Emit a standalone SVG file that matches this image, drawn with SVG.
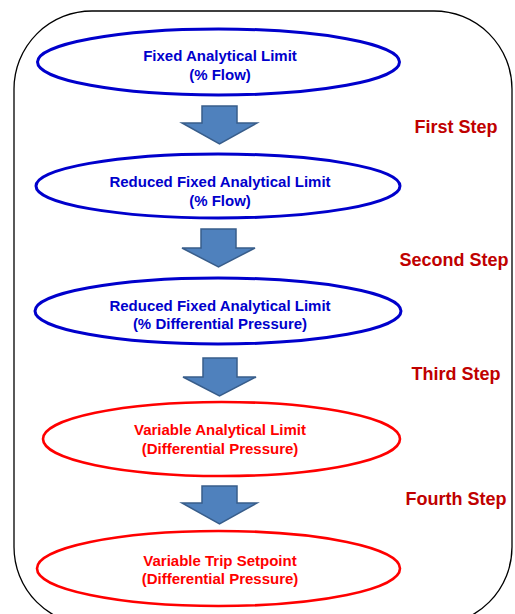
<svg xmlns="http://www.w3.org/2000/svg" width="515" height="614" viewBox="0 0 515 614">
<defs>
<style>
.frame{fill:none;stroke:#000;stroke-width:1.3}
.eb{fill:#fff;stroke:#0000CC;stroke-width:3}
.er{fill:#fff;stroke:#FF0000;stroke-width:2.6}
.tb{font-family:"Liberation Sans",Arial,sans-serif;font-weight:bold;font-size:15px;fill:#0000CC;text-anchor:middle}
.tr{font-family:"Liberation Sans",Arial,sans-serif;font-weight:bold;font-size:15px;fill:#FF0000;text-anchor:middle}
.step{font-family:"Liberation Sans",Arial,sans-serif;font-weight:bold;font-size:18px;fill:#C00000;text-anchor:middle}
.arr{fill:#4F81BD;stroke:#385D8A;stroke-width:1.5;stroke-linejoin:miter}
</style>
</defs>
<rect class="frame" x="14" y="11" width="498" height="614" rx="78" ry="78"/>
<g id="node1">
<ellipse class="eb" cx="218.5" cy="62" rx="181" ry="33"/>
<text class="tb" x="220" y="60.5">Fixed Analytical Limit</text>
<text class="tb" x="220" y="79.5">(% Flow)</text>
</g>
<g id="node2">
<ellipse class="eb" cx="218" cy="186" rx="182" ry="32"/>
<text class="tb" x="220" y="186.5">Reduced Fixed Analytical Limit</text>
<text class="tb" x="220" y="205.5">(% Flow)</text>
</g>
<g id="node3">
<ellipse class="eb" cx="218" cy="311" rx="183" ry="33"/>
<text class="tb" x="220" y="310.5">Reduced Fixed Analytical Limit</text>
<text class="tb" x="220" y="329">(% Differential Pressure)</text>
</g>
<g id="node4">
<ellipse class="er" cx="221.5" cy="439" rx="178.5" ry="37"/>
<text class="tr" x="220" y="434.5">Variable Analytical Limit</text>
<text class="tr" x="220" y="453.5">(Differential Pressure)</text>
</g>
<g id="node5">
<ellipse class="er" cx="218.5" cy="568.5" rx="181.5" ry="37.5"/>
<text class="tr" x="220" y="565.5">Variable Trip Setpoint</text>
<text class="tr" x="220" y="583.5">(Differential Pressure)</text>
</g>
<g id="connectors">
<path class="arr" d="M202,106 H237 V123 H257 L219.5,144 L182,123 H202 Z"/>
<path class="arr" d="M201,229 H236 V248 H255 L218.5,267 L182,248 H201 Z"/>
<path class="arr" d="M203,358 H237 V377 H256 L219.5,396 L183,377 H203 Z"/>
<path class="arr" d="M202,486 H237 V503 H257 L219.5,524 L182,503 H202 Z"/>
</g>
<g id="labels">
<text class="step" x="456" y="133">First Step</text>
<text class="step" x="454" y="266">Second Step</text>
<text class="step" x="456" y="380">Third Step</text>
<text class="step" x="456" y="505">Fourth Step</text>
</g>
</svg>
